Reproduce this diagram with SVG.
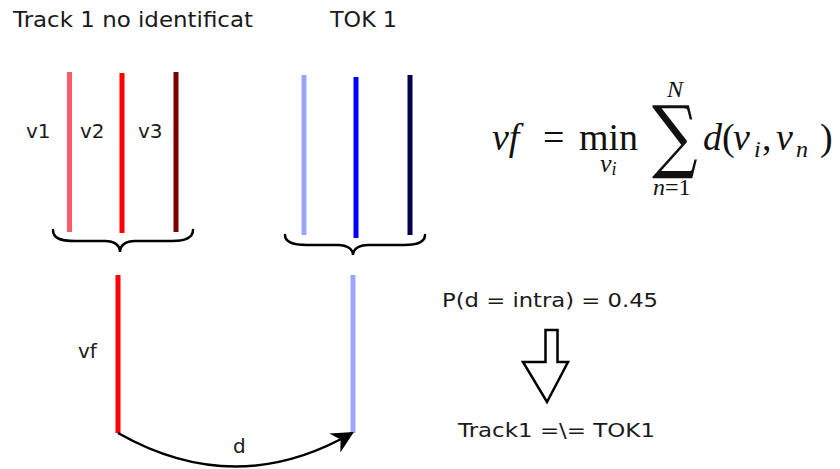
<svg xmlns="http://www.w3.org/2000/svg" width="840" height="469" viewBox="0 0 840 469">
<defs>
<style>
.lbl{font-family:"DejaVu Sans","Liberation Sans",sans-serif;fill:#1a1a1a}
.m{font-family:"Liberation Serif","DejaVu Serif",serif;fill:#111}
.mi{font-style:italic}
.tk{fill:none;stroke-width:5}
.brace{fill:none;stroke:#000;stroke-width:2.5;stroke-linecap:round}
</style>
<marker id="ah" viewBox="0 0 10 10" refX="9" refY="5" markerWidth="24" markerHeight="22" markerUnits="userSpaceOnUse" orient="auto">
<path d="M0,0 L10,5 L0,10 L3,5 Z" fill="#000"/>
</marker>
</defs>
<rect width="840" height="469" fill="#fff"/>

<g id="track1">
<text class="lbl" x="13" y="27" font-size="22" textLength="240" lengthAdjust="spacingAndGlyphs">Track 1 no identificat</text>
<line class="tk" x1="69.5" y1="72" x2="69.5" y2="232" stroke="#ff5a6a"/>
<line class="tk" x1="122" y1="73" x2="122" y2="233" stroke="#ff0000"/>
<line class="tk" x1="176" y1="72" x2="176" y2="232" stroke="#7a0000"/>
<text class="lbl" x="26" y="138" font-size="20">v1</text>
<text class="lbl" x="80" y="138" font-size="20">v2</text>
<text class="lbl" x="138" y="138" font-size="20">v3</text>
<path class="brace" d="M53,230 C53,238 60,241 75,241 L105,241 C114,241 120,245 120,252 C120,245 126,241 135,241 L172,241 C186,241 193,238 193,230"/>
</g>

<g id="tok1">
<text class="lbl" x="330" y="27" font-size="22" textLength="67" lengthAdjust="spacingAndGlyphs">TOK 1</text>
<line class="tk" x1="304" y1="75" x2="304" y2="235" stroke="#99a6ff"/>
<line class="tk" x1="356" y1="77" x2="356" y2="238" stroke="#0000ff"/>
<line class="tk" x1="410" y1="75" x2="410" y2="235" stroke="#000050"/>
<path class="brace" d="M285,235 C285,242 292,245 307,245 L338,245 C347,245 353,249 353,255 C353,249 359,245 368,245 L404,245 C418,245 425,242 425,235"/>
</g>

<g id="vf">
<line class="tk" x1="118" y1="275" x2="118" y2="433" stroke="#ff0000"/>
<text class="lbl" x="78" y="358" font-size="20">vf</text>
</g>

<g id="tok1-rep">
<line class="tk" x1="353" y1="275" x2="353" y2="433" stroke="#99a6ff"/>
</g>

<g id="connectors">
<path d="M118,433 Q236,500 352,433" fill="none" stroke="#000" stroke-width="2.5" marker-end="url(#ah)"/>
<text class="lbl" x="233" y="453" font-size="20">d</text>
</g>

<g id="formula">
<text class="m mi" x="492" y="150" font-size="38">vf</text>
<text class="m" x="543" y="150" font-size="38">=</text>
<text class="m" x="579" y="150" font-size="38">min</text>
<text class="m mi" x="600" y="172" font-size="26">v<tspan font-size="18" dy="3">i</tspan></text>
<text transform="translate(652,163) scale(0.8,1)" font-family="DejaVu Serif" font-size="80" fill="#111">∑</text>
<text class="m mi" x="667" y="97" font-size="24">N</text>
<text class="m" x="653" y="195" font-size="24"><tspan class="mi">n</tspan>=1</text>
<text class="m" y="150" font-size="38"><tspan class="mi" x="703">d</tspan><tspan x="722">(</tspan><tspan class="mi" x="733">v</tspan><tspan class="mi" x="754" y="157" font-size="24">i</tspan><tspan x="762" y="150">,</tspan><tspan class="mi" x="776">v</tspan><tspan class="mi" x="796" y="157" font-size="24">n</tspan><tspan x="820" y="150">)</tspan></text>
</g>

<g id="result">
<text class="lbl" x="442" y="307" font-size="20" textLength="216" lengthAdjust="spacingAndGlyphs">P(d = intra) = 0.45</text>
<path d="M545.5,330 L557.5,330 L557.5,362 L568,362 L547,402 L523,362 L545.5,362 Z" fill="#fff" stroke="#000" stroke-width="2.5" stroke-linejoin="miter"/>
<text class="lbl" x="458" y="437" font-size="20" textLength="197" lengthAdjust="spacingAndGlyphs">Track1 =\= TOK1</text>
</g>
</svg>
